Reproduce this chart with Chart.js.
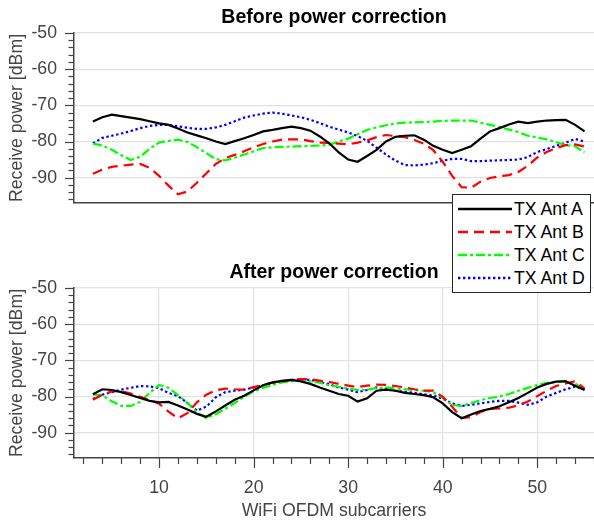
<!DOCTYPE html>
<html><head><meta charset="utf-8">
<script src="https://cdn.jsdelivr.net/npm/chart.js@4.4.1/dist/chart.umd.min.js"></script>
<style>
html,body{margin:0;padding:0;background:#fff;}
#wrap{position:relative;width:594px;height:522px;overflow:hidden;background:#fff;font-family:'Liberation Sans',Arial,sans-serif;}
#c1{position:absolute;left:0;top:0;}
#c2{position:absolute;left:0;top:255px;}
#legend{position:absolute;left:452px;top:194px;width:139px;height:99px;box-sizing:border-box;border:1.5px solid #262626;background:#fff;z-index:5;}
.row{position:absolute;left:0;width:100%;height:22px;}
.row svg{position:absolute;left:3.5px;top:0;}
.row span{position:absolute;left:61px;top:0;font-size:17.7px;line-height:22px;color:#000;white-space:nowrap;}
</style></head>
<body>
<div id="wrap">
  <canvas id="c1" width="594" height="205"></canvas>
  <canvas id="c2" width="594" height="267"></canvas>
  <div id="legend"></div>
</div>
<script>
// ---- data ----
const subcarriers = [3,4,5,6,7,8,9,10,11,12,13,14,15,16,17,18,19,20,21,22,23,24,25,26,27,28,29,30,31,32,33,34,35,36,37,38,39,40,41,42,43,44,45,46,47,48,49,50,51,52,53,54,55];
const seriesNames = ['TX Ant A','TX Ant B','TX Ant C','TX Ant D'];
const titles = ['Before power correction','After power correction'];
const yTickLabels = [-90,-80,-70,-60,-50];
const xTickLabels = [10,20,30,40,50];

const beforeA = [-74.5,-73.3,-72.6,-73.0,-73.4,-73.8,-74.4,-75.0,-75.4,-76.4,-77.5,-78.3,-79.1,-80.0,-80.7,-79.9,-79.1,-78.2,-77.2,-76.8,-76.3,-75.9,-76.3,-77.0,-78.6,-80.5,-83.0,-85.0,-85.6,-84.0,-82.3,-80.0,-78.7,-78.4,-78.3,-79.5,-81.2,-82.3,-83.2,-82.3,-81.3,-79.2,-77.2,-76.3,-75.3,-74.5,-74.9,-74.5,-74.2,-74.1,-74.0,-75.4,-77.2];
const beforeB = [-88.9,-87.8,-87.0,-86.7,-86.4,-86.2,-87.3,-89.5,-92.2,-94.6,-93.8,-91.4,-88.8,-86.2,-84.6,-83.7,-82.7,-81.6,-80.7,-80.0,-79.5,-79.4,-79.4,-79.9,-80.3,-80.4,-80.6,-80.8,-80.3,-79.7,-78.8,-78.2,-78.5,-78.8,-79.6,-80.6,-82.4,-85.6,-89.5,-92.6,-92.8,-91.1,-90.1,-89.6,-89.3,-88.4,-86.7,-84.4,-82.9,-81.8,-81.0,-80.8,-81.4];
const beforeC = [-80.6,-81.1,-82.3,-83.8,-85.1,-84.2,-82.0,-80.3,-79.8,-79.5,-80.1,-81.6,-83.2,-84.9,-85.2,-84.5,-83.6,-82.7,-81.8,-81.6,-81.5,-81.4,-81.3,-81.2,-81.1,-80.9,-80.0,-79.2,-78.0,-76.8,-76.1,-75.5,-75.0,-74.8,-74.7,-74.6,-74.5,-74.3,-74.2,-74.2,-74.2,-74.8,-75.4,-76.0,-76.7,-77.4,-78.4,-78.9,-79.4,-80.2,-81.0,-81.3,-83.0];
const beforeD = [-80.5,-79.0,-78.4,-77.8,-77.1,-76.3,-75.7,-75.4,-75.4,-75.8,-76.2,-76.5,-76.5,-76.1,-75.4,-74.4,-73.4,-72.8,-72.3,-72.0,-72.3,-72.8,-73.3,-74.0,-74.9,-75.9,-76.7,-77.5,-78.5,-79.8,-81.7,-83.6,-85.3,-86.5,-86.6,-86.4,-86.0,-85.3,-84.8,-84.8,-85.4,-85.4,-85.3,-85.2,-85.1,-85.0,-84.3,-82.9,-82.1,-81.2,-80.3,-79.3,-80.0];

const afterA = [-79.4,-78.0,-78.2,-78.8,-79.6,-80.4,-81.2,-81.6,-81.5,-82.5,-83.6,-84.8,-85.6,-84.1,-82.5,-80.9,-79.8,-78.3,-76.9,-76.1,-75.7,-75.4,-75.8,-76.5,-77.5,-78.4,-79.3,-79.8,-81.4,-80.5,-78.4,-78.1,-78.4,-79.0,-79.3,-79.6,-80.2,-81.9,-84.3,-86.0,-85.0,-84.0,-83.4,-82.7,-81.6,-80.4,-79.0,-77.5,-76.5,-75.9,-75.8,-77.0,-78.2];
const afterB = [-80.9,-79.5,-78.6,-78.5,-79.2,-80.1,-81.0,-82.0,-84.2,-86.0,-84.6,-81.6,-79.5,-78.3,-77.8,-78.0,-78.1,-77.4,-76.8,-76.2,-75.8,-75.4,-75.2,-75.2,-75.6,-76.0,-76.5,-77.0,-77.4,-77.0,-76.7,-76.8,-77.1,-77.5,-78.0,-78.4,-78.4,-80.1,-82.8,-86.0,-85.7,-84.3,-83.4,-83.3,-83.1,-82.4,-81.4,-79.9,-78.4,-77.1,-76.4,-75.8,-77.8];
const afterC = [-79.4,-79.7,-81.3,-82.6,-82.6,-81.5,-79.0,-76.8,-77.6,-79.6,-81.8,-84.4,-86.0,-84.9,-83.4,-81.8,-80.1,-78.6,-77.6,-76.8,-76.1,-75.8,-75.4,-75.8,-76.2,-76.9,-77.3,-77.8,-78.2,-78.1,-77.7,-77.5,-77.8,-78.0,-78.2,-78.4,-78.8,-80.3,-82.4,-82.6,-81.8,-81.0,-80.4,-80.0,-79.3,-78.4,-77.6,-76.8,-76.2,-75.9,-75.7,-76.3,-78.4];
const afterD = [-80.7,-79.5,-78.8,-78.1,-77.6,-77.1,-77.2,-77.7,-79.0,-79.9,-81.8,-83.9,-82.8,-80.2,-78.8,-78.4,-78.1,-77.5,-76.9,-76.3,-75.8,-75.4,-75.4,-75.4,-76.0,-76.6,-77.5,-78.1,-78.8,-78.2,-77.5,-77.9,-78.4,-78.7,-79.0,-79.4,-79.7,-80.6,-81.9,-82.6,-82.3,-81.9,-81.5,-81.2,-81.2,-81.7,-82.3,-81.6,-80.0,-79.0,-78.0,-77.3,-78.0];

// ---- styles ----
const FAMILY = "'Liberation Sans', Arial, Helvetica, sans-serif";
const AXIS = '#444444';
const GRID = '#e2e2e2';
const colors = ['#000000','#ff0000','#00ff00','#0000ff'];
const dashes = [[], [10,6], [9,3,3,3], [2.4,2.6]];
const LW = 2.2;

Chart.defaults.font.family = FAMILY;

const tickMarks = {
  id: 'tickMarks',
  afterDraw(chart, args, o) {
    const ctx = chart.ctx;
    ctx.save();
    ctx.strokeStyle = AXIS;
    ctx.lineWidth = 1.2;
    const ys = chart.scales.y;
    for (const t of ys.ticks) {
      const p = Math.round(ys.getPixelForValue(t.value)) + 0.5;
      const len = yTickLabels.includes(t.value) ? 9 : 5.5;
      ctx.beginPath(); ctx.moveTo(ys.right, p); ctx.lineTo(ys.right - len, p); ctx.stroke();
    }
    if (o && o.x) {
      const xs = chart.scales.x;
      for (const t of xs.ticks) {
        const p = Math.round(xs.getPixelForValue(t.value)) + 0.5;
        const len = xTickLabels.includes(t.value) ? 10 : 6;
        ctx.beginPath(); ctx.moveTo(p, xs.top); ctx.lineTo(p, xs.top + len); ctx.stroke();
      }
    }
    ctx.restore();
  }
};

function makeChart(id, titleText, series, bottom) {
  const datasets = series.map((s, i) => ({
    label: seriesNames[i],
    data: subcarriers.map((x, j) => ({x: x, y: s[j]})),
    borderColor: colors[i],
    borderDash: dashes[i],
    borderWidth: LW,
    pointRadius: 0,
    fill: false,
    tension: 0
  }));
  return new Chart(document.getElementById(id), {
    type: 'line',
    data: {datasets},
    options: {
      responsive: false,
      animation: false,
      events: [],
      layout: {padding: 0},
      plugins: {
        legend: {display: false},
        tooltip: {enabled: false},
        title: {
          display: true, text: titleText, color: '#000', fullSize: false,
          font: {size: 19.5, weight: 'bold', family: FAMILY, lineHeight: 1.2},
          padding: {top: 6, bottom: 3.6}
        },
        tickMarks: {x: bottom}
      },
      scales: {
        x: {
          type: 'linear', min: 1, max: 56,
          border: {display: true, color: AXIS, width: 1.5},
          grid: {
            display: bottom, drawTicks: false,
            color: c => xTickLabels.includes(c.tick.value) ? GRID : 'rgba(0,0,0,0)',
            lineWidth: 1.2
          },
          ticks: {
            display: bottom, stepSize: 2, autoSkip: false, maxRotation: 0, includeBounds: false,
            padding: 19, color: AXIS, font: {size: 17.7},
            callback: v => xTickLabels.includes(v) ? String(v) : ''
          },
          title: {
            display: bottom, text: 'WiFi OFDM subcarriers', color: AXIS,
            font: {size: 17.7}, padding: {top: 0, bottom: 0}
          },
          afterFit: s => { s.height = bottom ? 64 : 2; s.paddingLeft = 0; s.paddingRight = 0; }
        },
        y: {
          type: 'linear', min: -97, max: -50,
          border: {display: true, color: AXIS, width: 1.5},
          grid: {
            drawTicks: false,
            color: c => yTickLabels.includes(c.tick.value) ? GRID : 'rgba(0,0,0,0)',
            lineWidth: 1.2
          },
          ticks: {
            stepSize: 2, autoSkip: false, includeBounds: false,
            padding: 17, color: AXIS, font: {size: 17.7},
            callback: v => yTickLabels.includes(v) ? String(v) : ''
          },
          title: {
            display: true, text: 'Receive power [dBm]', color: AXIS,
            font: {size: 17.7}, padding: {top: 6, bottom: 0}
          },
          afterFit: s => { s.width = 74; s.paddingTop = 0; s.paddingBottom = 0; }
        }
      }
    },
    plugins: [tickMarks]
  });
}

makeChart('c1', titles[0], [beforeA, beforeB, beforeC, beforeD], false);
makeChart('c2', titles[1], [afterA, afterB, afterC, afterD], true);

// ---- legend (HTML overlay) ----
const legend = document.getElementById('legend');
const rowTops = [3, 26, 49, 72];
seriesNames.forEach((name, i) => {
  const row = document.createElement('div');
  row.className = 'row';
  row.style.top = rowTops[i] + 'px';
  const dash = dashes[i].length ? ` stroke-dasharray="${dashes[i].join(' ')}"` : '';
  row.innerHTML = `<svg width="56" height="22"><line x1="1" y1="11" x2="55" y2="11" stroke="${colors[i]}" stroke-width="${LW+0.3}"${dash}/></svg><span>${name}</span>`;
  legend.appendChild(row);
});
</script>
</body></html>
